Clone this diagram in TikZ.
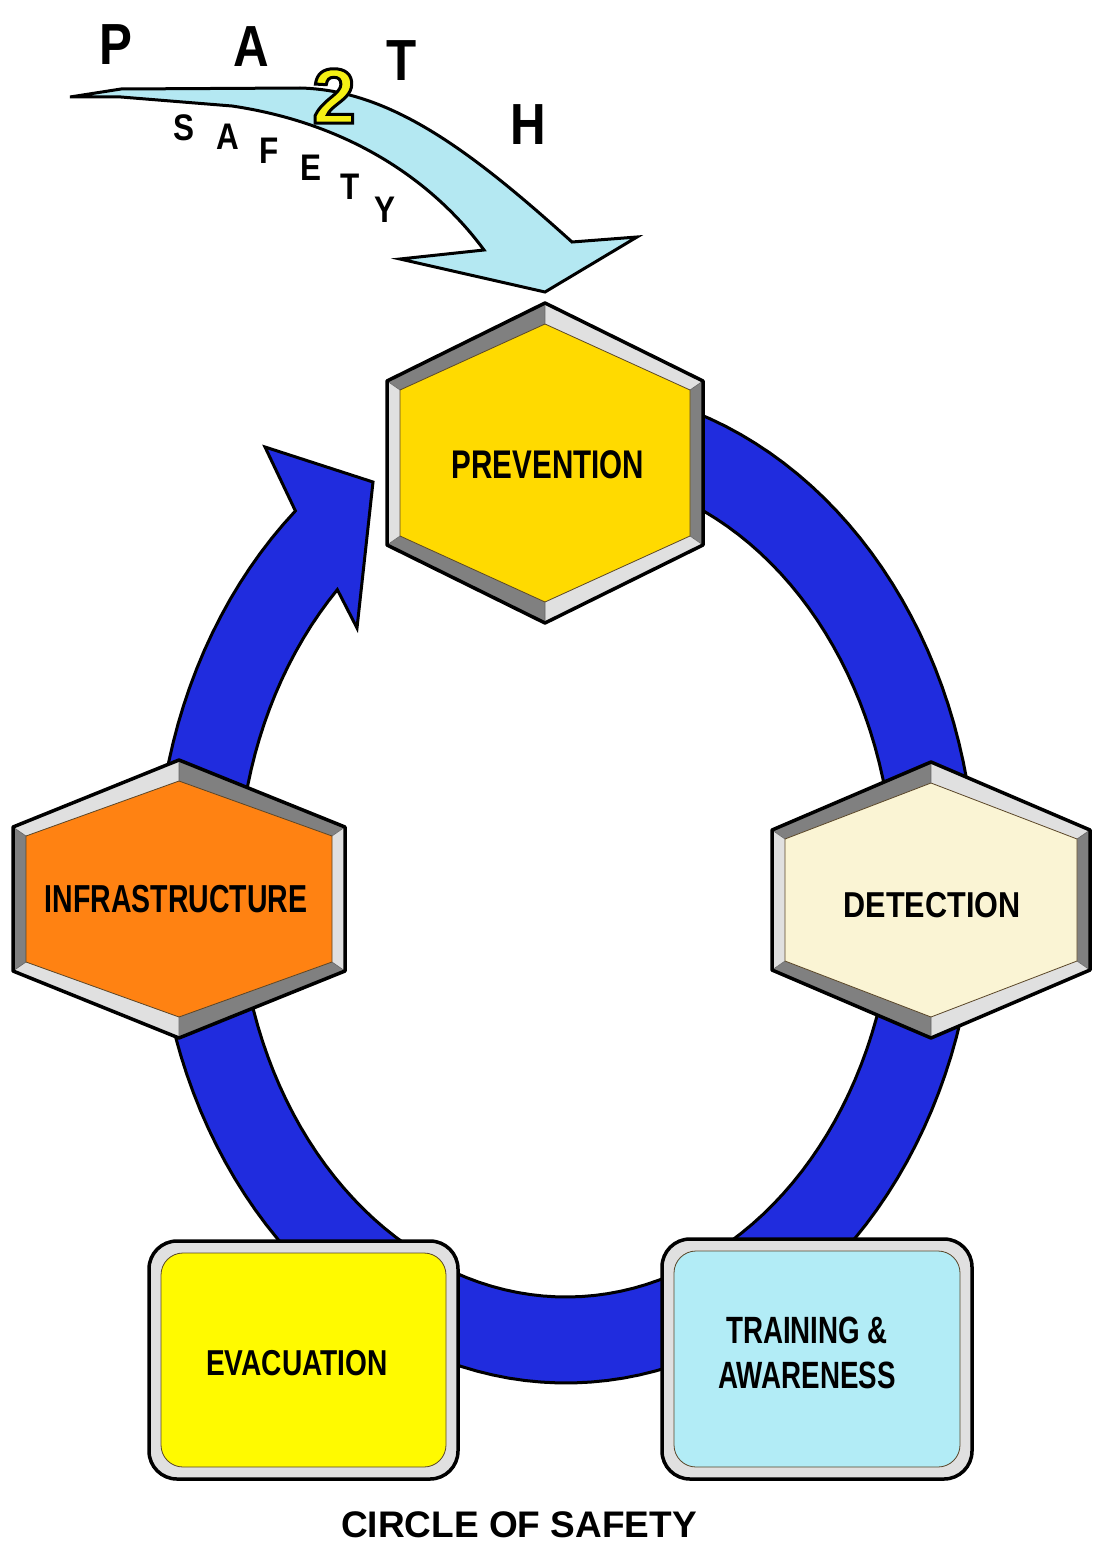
\documentclass[tikz,border=0pt]{standalone}
\usepackage{fontspec}
\setmainfont{Liberation Sans}
\usepackage{graphicx}
\definecolor{ringblue}{RGB}{32,44,222}
\definecolor{bevdark}{RGB}{128,128,128}
\definecolor{bevlight}{RGB}{224,224,224}
\definecolor{prevyellow}{RGB}{255,218,0}
\definecolor{infraorange}{RGB}{255,130,18}
\definecolor{detcream}{RGB}{250,244,212}
\definecolor{evacyellow}{RGB}{255,250,0}
\definecolor{trainblue}{RGB}{178,236,246}
\definecolor{pathcyan}{RGB}{180,232,242}
\definecolor{twoyellow}{RGB}{245,240,20}
\definecolor{innerline}{RGB}{90,70,40}
\tikzset{
  outerln/.style={draw=black,line width=3.5pt,line join=round},
  innerln/.style={draw=innerline,line width=0.8pt},
  ringln/.style={draw=black,fill=ringblue,line width=3pt,line join=miter},
  pathln/.style={draw=black,fill=pathcyan,line width=3pt,line join=miter},
  lbl/.style={anchor=base,inner sep=0pt,text=black},
  letter/.style={inner sep=0pt,text=black,font=\bfseries}
}
\newcommand\labtext[3]{{\fontsize{#1}{#1}\selectfont\bfseries\scalebox{#2}[1]{#3}}}
\newcommand\hexbev[9]{%
 \coordinate (#1-T) at ({#2},{#3-#6});
 \coordinate (#1-UR) at ({#2+#4},{#3-#5});
 \coordinate (#1-LR) at ({#2+#4},{#3+#5});
 \coordinate (#1-B) at ({#2},{#3+#6});
 \coordinate (#1-LL) at ({#2-#4},{#3+#5});
 \coordinate (#1-UL) at ({#2-#4},{#3-#5});
 \coordinate (#1-t) at ({#2},{#3-#6+21});
 \coordinate (#1-ur) at ({#2+#4-13},{#3-#5+9});
 \coordinate (#1-lr) at ({#2+#4-13},{#3+#5-9});
 \coordinate (#1-b) at ({#2},{#3+#6-21});
 \coordinate (#1-ll) at ({#2-#4+13},{#3+#5-9});
 \coordinate (#1-ul) at ({#2-#4+13},{#3-#5+9});
 \fill[#8] (#1-UL)--(#1-T)--(#1-t)--(#1-ul)--cycle;
 \fill[#9] (#1-T)--(#1-UR)--(#1-ur)--(#1-t)--cycle;
 \fill[#8] (#1-UR)--(#1-LR)--(#1-lr)--(#1-ur)--cycle;
 \fill[#9] (#1-LR)--(#1-B)--(#1-b)--(#1-lr)--cycle;
 \fill[#8] (#1-B)--(#1-LL)--(#1-ll)--(#1-b)--cycle;
 \fill[#9] (#1-LL)--(#1-UL)--(#1-ul)--(#1-ll)--cycle;
 \fill[#7] (#1-t)--(#1-ur)--(#1-lr)--(#1-b)--(#1-ll)--(#1-ul)--cycle;
 \draw[innerln] (#1-t)--(#1-ur)--(#1-lr)--(#1-b)--(#1-ll)--(#1-ul)--cycle;
 \draw[draw=black!60,line width=0.6pt] (#1-T)--(#1-t) (#1-UR)--(#1-ur) (#1-LR)--(#1-lr)
   (#1-B)--(#1-b) (#1-LL)--(#1-ll) (#1-UL)--(#1-ul);
 \draw[outerln] (#1-T)--(#1-UR)--(#1-LR)--(#1-B)--(#1-LL)--(#1-UL)--cycle;
}
\begin{document}
\begin{tikzpicture}[x=1pt,y=-1pt]
\path[use as bounding box,fill=white] (0,0) rectangle (1094,1552);

% blue ring with arrowhead
\draw[ringln]
  plot[domain=-90:228.7,samples=140] ({566+410*cos(\x)},{885+498*sin(\x)})
  -- (265,447) -- (373,482) -- (357,628)
  -- plot[domain=0:315.8,samples=140] ({566+328*cos(225.8-\x)},{885+412*sin(225.8-\x)})
  -- cycle;

% hexagons
\hexbev{hp}{545}{463}{158}{82}{160}{prevyellow}{bevdark}{bevlight}
\hexbev{hi}{179}{899}{166}{72}{139}{infraorange}{bevlight}{bevdark}
\hexbev{hd}{931}{900}{159}{70}{138}{detcream}{bevdark}{bevlight}

% rounded boxes
\draw[fill=bevlight,line width=3.5pt,rounded corners=28pt] (149,1241) rectangle (458,1479);
\draw[fill=evacyellow,innerln,rounded corners=22pt] (161,1253) rectangle (446,1467);
\draw[fill=bevlight,line width=3.5pt,rounded corners=28pt] (662,1239) rectangle (972,1479);
\draw[fill=trainblue,innerln,rounded corners=22pt] (674,1251) rectangle (960,1467);

% labels
\node[lbl] (prev) at (548,478) {\labtext{40}{0.74}{PREVENTION}};
\node[lbl] (infra) at (176,912) {\labtext{39}{0.73}{INFRASTRUCTURE}};
\node[lbl] (detect) at (932,917) {\labtext{36}{0.85}{DETECTION}};
\node[lbl] (evac) at (297,1375) {\labtext{36}{0.78}{EVACUATION}};
\node[lbl] (train1) at (807,1343) {\labtext{38}{0.73}{TRAINING \&}};
\node[lbl] (train2) at (807,1388) {\labtext{38}{0.73}{AWARENESS}};
\node[lbl] (title) at (519,1537) {\fontsize{37}{37}\selectfont\bfseries CIRCLE OF SAFETY};

% top path arrow
\draw[pathln] (70,97) -- (121,89) -- (300,88)
  .. controls (390,90) and (470,150) .. (572,242)
  -- (637,237) -- (545,292) -- (400,259) -- (484,250)
  .. controls (440,190) and (360,125) .. (232,106)
  -- (121,97) -- cycle;

% PATH letters
\node[letter] (lp) at (116,45) {\fontsize{58}{58}\selectfont\scalebox{0.85}[1]{P}};
\node[letter] (la) at (251,47) {\fontsize{58}{58}\selectfont\scalebox{0.85}[1]{A}};
\node[letter] (lt) at (402,61) {\fontsize{58}{58}\selectfont\scalebox{0.85}[1]{T}};
\node[letter] (lh) at (528,125) {\fontsize{58}{58}\selectfont\scalebox{0.85}[1]{H}};
\node[letter,text=twoyellow] (two) at (334,96) {\fontsize{78}{78}\selectfont\special{pdf:literal direct 2 Tr 3 w 0 0 0 RG}2\special{pdf:literal direct 0 Tr}};

% SAFETY letters
\node[letter] (s1) at (184,128) {\fontsize{37}{37}\selectfont\scalebox{0.85}[1]{S}};
\node[letter] (s2) at (228,137) {\fontsize{37}{37}\selectfont\scalebox{0.85}[1]{A}};
\node[letter] (s3) at (269,151) {\fontsize{37}{37}\selectfont\scalebox{0.85}[1]{F}};
\node[letter] (s4) at (311,168) {\fontsize{37}{37}\selectfont\scalebox{0.85}[1]{E}};
\node[letter] (s5) at (350,187) {\fontsize{37}{37}\selectfont\scalebox{0.85}[1]{T}};
\node[letter] (s6) at (385,210) {\fontsize{37}{37}\selectfont\scalebox{0.85}[1]{Y}};
\end{tikzpicture}
\end{document}
